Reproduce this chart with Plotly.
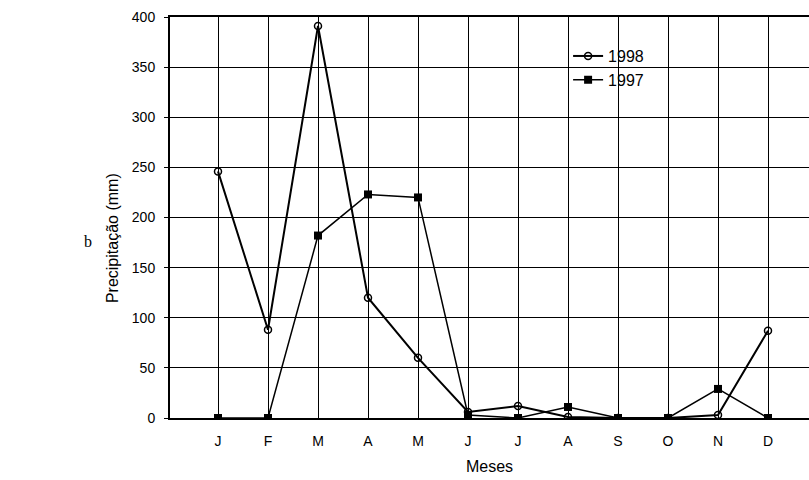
import plotly.graph_objects as go

months = ["J", "F", "M", "A", "M", "J", "J", "A", "S", "O", "N", "D"]
pos = list(range(1, 13))
p1998 = [246, 88, 391, 120, 60, 6, 12, 1, 0, 0, 3, 87]
p1997 = [0, 0, 182, 223, 220, 3, 0, 11, 0, 0, 29, 0]

fig = go.Figure()
fig.add_trace(go.Scatter(
    x=pos, y=p1998, name="1998", mode="lines+markers",
    line=dict(color="black", width=2),
    marker=dict(symbol="circle-open", size=7, color="black", line=dict(width=1.5)),
))
fig.add_trace(go.Scatter(
    x=pos, y=p1997, name="1997", mode="lines+markers",
    line=dict(color="black", width=1.5),
    marker=dict(symbol="square", size=8, color="black"),
))

fig.update_layout(
    width=809, height=480,
    margin=dict(l=170, r=0, t=17, b=62),
    paper_bgcolor="white", plot_bgcolor="white",
    font=dict(family="Liberation Sans, Arial, sans-serif", size=14, color="black"),
    showlegend=True,
    legend=dict(x=0.623, y=0.945, xanchor="left", yanchor="top",
                bgcolor="rgba(0,0,0,0)", itemwidth=30,
                font=dict(size=16), tracegroupgap=0),
    xaxis=dict(
        range=[0.04, 12.82], tickmode="array", tickvals=pos, ticktext=months,
        showgrid=True, gridcolor="black", gridwidth=1,
        showline=True, linecolor="black", linewidth=2, mirror=True,
        ticks="", zeroline=False, ticklabelstandoff=9,
        tickfont=dict(size=14),
        title=dict(text="Meses", standoff=13, font=dict(size=16)),
    ),
    yaxis=dict(
        range=[0, 400], tickmode="array", tickvals=list(range(0, 401, 50)),
        showgrid=True, gridcolor="black", gridwidth=1,
        showline=True, linecolor="black", linewidth=2, mirror=False,
        ticks="outside", ticklen=4, tickcolor="black", zeroline=False,
        ticklabelstandoff=6, tickfont=dict(size=14),
    ),
    annotations=[
        dict(text="Precipitação (mm)", xref="paper", yref="paper",
             x=-0.089, y=0.449, textangle=-90, showarrow=False,
             xanchor="center", yanchor="middle", font=dict(size=16)),
        dict(text="b", xref="paper", yref="paper", x=-0.128, y=0.44,
             showarrow=False, xanchor="center", yanchor="middle",
             font=dict(family="Liberation Serif, Times New Roman, serif", size=16)),
    ],
)

fig.write_html("out.html", config={"displayModeBar": False},
               post_script="document.body.style.margin='0';")
